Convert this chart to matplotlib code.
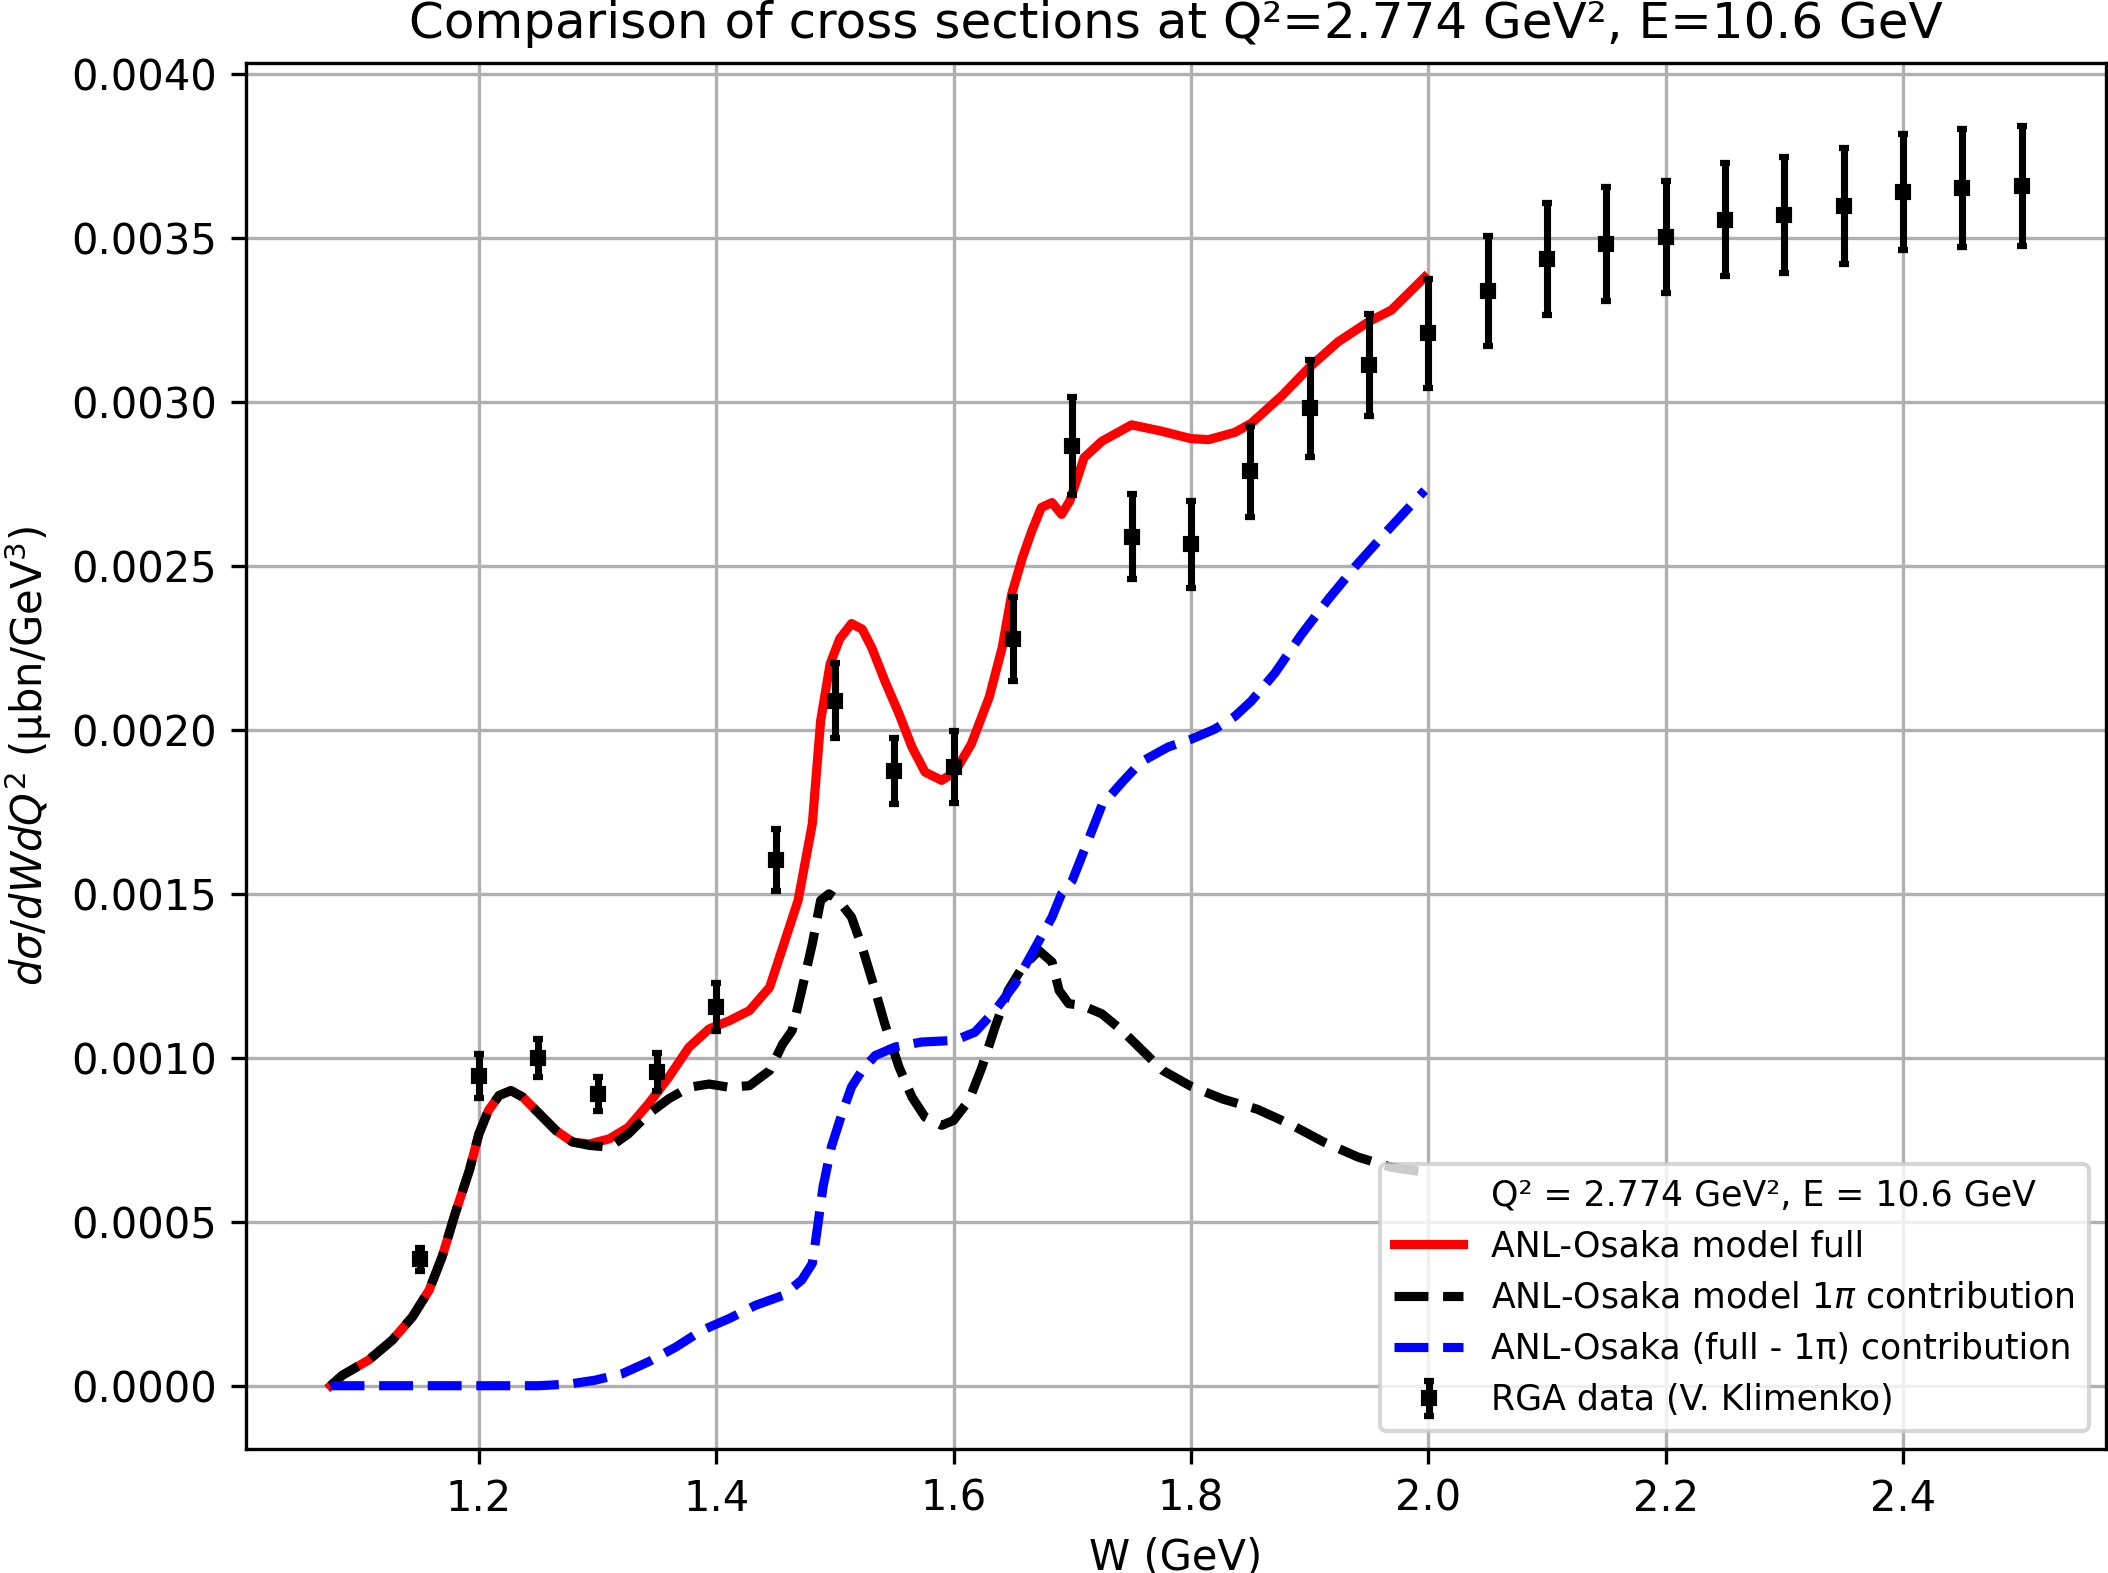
import numpy as np
import matplotlib
matplotlib.use("Agg")
import matplotlib.pyplot as plt

# ANL-Osaka model, full
W_full = [1.075, 1.085, 1.107, 1.127, 1.144, 1.158, 1.169, 1.180, 1.192, 1.200,
          1.208, 1.217, 1.227, 1.237, 1.251, 1.265, 1.279, 1.293, 1.310, 1.326,
          1.343, 1.360, 1.377, 1.394, 1.411, 1.428, 1.445, 1.456, 1.469, 1.481,
          1.488, 1.496, 1.504, 1.514, 1.523, 1.531, 1.542, 1.554, 1.565, 1.576,
          1.590, 1.601, 1.615, 1.630, 1.641, 1.649, 1.658, 1.666, 1.674, 1.683,
          1.691, 1.698, 1.710, 1.725, 1.750, 1.775, 1.800, 1.815, 1.837, 1.851,
          1.877, 1.900, 1.924, 1.950, 1.969, 1.997]
xs_full = [0.0, 0.000032, 0.000078, 0.000139, 0.000210, 0.000291, 0.000393, 0.000525, 0.000657, 0.000768,
           0.000839, 0.000885, 0.000900, 0.000880, 0.000829, 0.000778, 0.000743, 0.000737, 0.000753, 0.000788,
           0.000860, 0.000941, 0.001032, 0.001088, 0.001113, 0.001144, 0.001215, 0.001336, 0.001480, 0.001714,
           0.002028, 0.002201, 0.002277, 0.002324, 0.002307, 0.002251, 0.002150, 0.002049, 0.001947, 0.001871,
           0.001846, 0.001871, 0.001957, 0.002099, 0.002251, 0.002414, 0.002525, 0.002607, 0.002678, 0.002693,
           0.002657, 0.002698, 0.002830, 0.002880, 0.002930, 0.002911, 0.002888, 0.002885, 0.002907, 0.002935,
           0.003020, 0.003106, 0.003183, 0.003245, 0.003280, 0.003380]

# 1pi contribution
W_1pi = [1.075, 1.085, 1.107, 1.127, 1.144, 1.158, 1.169, 1.180, 1.192, 1.200,
         1.208, 1.217, 1.227, 1.237, 1.251, 1.265, 1.279, 1.293, 1.310, 1.326,
         1.343, 1.360, 1.377, 1.394, 1.411, 1.428, 1.445, 1.456, 1.464, 1.472,
         1.481, 1.488, 1.495, 1.503, 1.514, 1.523, 1.534, 1.542, 1.554, 1.565,
         1.576, 1.590, 1.600, 1.613, 1.624, 1.635, 1.646, 1.658, 1.672, 1.683,
         1.689, 1.697, 1.708, 1.725, 1.742, 1.762, 1.776, 1.800, 1.827, 1.856,
         1.884, 1.912, 1.941, 1.969, 1.997]
xs_1pi = [0.0, 0.000032, 0.000078, 0.000139, 0.000210, 0.000291, 0.000393, 0.000525, 0.000657, 0.000768,
          0.000839, 0.000885, 0.000900, 0.000880, 0.000829, 0.000778, 0.000743, 0.000733, 0.000727, 0.000768,
          0.000829, 0.000875, 0.000910, 0.000920, 0.000910, 0.000915, 0.000961, 0.001042, 0.001083, 0.001205,
          0.001348, 0.001480, 0.001500, 0.001480, 0.001429, 0.001337, 0.001205, 0.001104, 0.000972, 0.000880,
          0.000819, 0.000794, 0.000809, 0.000870, 0.000972, 0.001094, 0.001205, 0.001276, 0.001327, 0.001292,
          0.001205, 0.001165, 0.001160, 0.001134, 0.001083, 0.001012, 0.000962, 0.000913, 0.000874, 0.000843,
          0.000797, 0.000743, 0.000697, 0.000666, 0.000651]

# full - 1pi
W_rest = [1.075, 1.150, 1.250, 1.276, 1.298, 1.321, 1.343, 1.366, 1.388, 1.411,
          1.433, 1.456, 1.472, 1.481, 1.485, 1.490, 1.497, 1.506, 1.514, 1.523,
          1.534, 1.551, 1.573, 1.601, 1.618, 1.635, 1.652, 1.669, 1.683, 1.691,
          1.700, 1.712, 1.725, 1.742, 1.758, 1.781, 1.800, 1.820, 1.837, 1.851,
          1.871, 1.893, 1.916, 1.939, 1.964, 1.997]
xs_rest = [0.0, 0.0, 0.0, 0.000005, 0.000017, 0.000037, 0.000073, 0.000118, 0.000169, 0.000205,
           0.000245, 0.000275, 0.000322, 0.000373, 0.000474, 0.000606, 0.000728, 0.000830, 0.000911, 0.000962,
           0.001007, 0.001033, 0.001048, 0.001053, 0.001078, 0.001144, 0.001226, 0.001337, 0.001429, 0.001500,
           0.001540, 0.001650, 0.001770, 0.001840, 0.001902, 0.001948, 0.001971, 0.002002, 0.002041, 0.002088,
           0.002174, 0.002290, 0.002399, 0.002500, 0.002601, 0.002730]

# RGA data
W_data = [1.15, 1.20, 1.25, 1.30, 1.35, 1.40, 1.45, 1.50, 1.55, 1.60,
          1.65, 1.70, 1.75, 1.80, 1.85, 1.90, 1.95, 2.00, 2.05, 2.10,
          2.15, 2.20, 2.25, 2.30, 2.35, 2.40, 2.45, 2.50]
xs_data = [0.000385, 0.000945, 0.000998, 0.000890, 0.000957, 0.001155, 0.001604, 0.002089, 0.001874, 0.001886,
           0.002277, 0.002866, 0.002589, 0.002566, 0.002788, 0.002980, 0.003113, 0.003209, 0.003338, 0.003435,
           0.003481, 0.003503, 0.003556, 0.003570, 0.003596, 0.003640, 0.003652, 0.003659]
err_data = [0.000034, 0.000067, 0.000058, 0.000051, 0.000058, 0.000073, 0.000095, 0.000115, 0.000100, 0.000109,
            0.000129, 0.000149, 0.000130, 0.000132, 0.000140, 0.000148, 0.000155, 0.000166, 0.000168, 0.000171,
            0.000173, 0.000172, 0.000173, 0.000177, 0.000177, 0.000177, 0.000180, 0.000183]

fig = plt.figure(figsize=(2108 / 300, 1573 / 300), dpi=300)
ax = fig.add_axes([0.1167, 0.0790, 0.8824, 0.8811])

ax.plot([], [], ' ', label='Q² = 2.774 GeV², E = 10.6 GeV')
ax.plot(W_full, xs_full, color='red', lw=2.2, label='ANL-Osaka model full')
ax.plot(W_1pi, xs_1pi, color='black', ls='--', lw=2.2, label=r'ANL-Osaka model 1$\pi$ contribution')
ax.plot(W_rest, xs_rest, color='blue', ls='--', lw=2.2, label='ANL-Osaka (full - 1π) contribution')
ax.errorbar(W_data, xs_data, yerr=err_data, fmt='s', color='black', markersize=3,
            elinewidth=1.7, capsize=1.3, capthick=1.5, label='RGA data (V. Klimenko)')

ax.set_xlabel('W (GeV)')
ax.set_ylabel(r'$d\sigma/dWdQ^2$ (μbn/GeV$^3$)')
ax.set_title('Comparison of cross sections at Q²=2.774 GeV², E=10.6 GeV')
ax.grid(True)
ax.legend(loc='lower right', fontsize='small')

fig.savefig('out.png', dpi=300)
